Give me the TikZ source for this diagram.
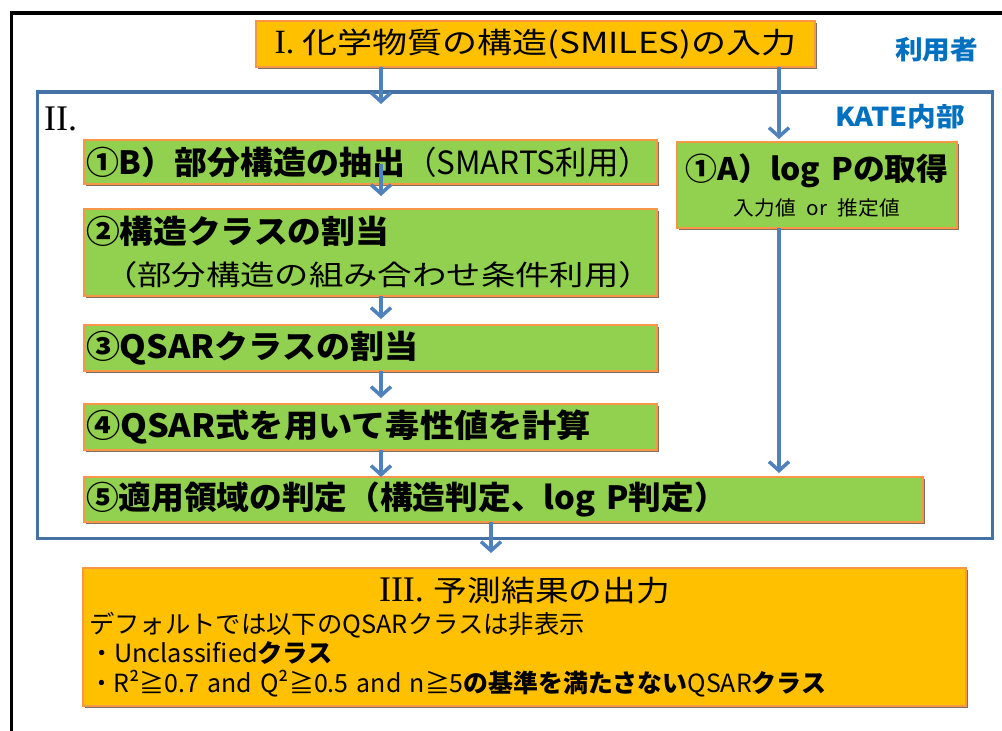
\documentclass[tikz,border=0pt]{standalone}
\usepackage{fontspec}
\usepackage{graphicx}
\setmainfont{Noto Sans CJK JP}
\newfontfamily\serifI{Liberation Serif}
\usetikzlibrary{arrows.meta,shadows,calc}
\definecolor{orfill}{HTML}{FFC000}
\definecolor{grfill}{HTML}{92D050}
\definecolor{bdr}{HTML}{F79646}
\definecolor{arrblue}{HTML}{4F81BD}
\definecolor{frameblue}{HTML}{4472A4}
\definecolor{lblblue}{HTML}{0070C0}
\newcommand{\fw}[2]{\resizebox{#1}{\height}{#2}}
\begin{document}
\begin{tikzpicture}[x=1pt,y=-1pt,
  boxbase/.style={draw=bdr, line width=1.5pt, anchor=north west, outer sep=0pt,
    inner ysep=0pt, inner xsep=2pt, align=left,
    drop shadow={shadow xshift=1.8pt, shadow yshift=-1.8pt, fill=black!60!brown, opacity=0.7}},
  gbox/.style={boxbase, fill=grfill},
  obox/.style={boxbase, fill=orfill},
  arr/.style={draw=arrblue, line width=3.5pt, -{Straight Barb[length=9pt,width=20pt]}},
  lbl/.style={text=lblblue, font=\fontsize{26pt}{30pt}\selectfont\bfseries, inner sep=0pt},
  bigfont/.style={font=\fontsize{32pt}{42pt}\selectfont}
]
\useasboundingbox (0,0) rectangle (1002,731);
\fill[white] (0,0) rectangle (1002,731);
\draw[line width=3.5pt] (11.5,731) -- (11.5,13) -- (1002,13);

\node[draw=frameblue, line width=3.3pt, minimum width=955pt, minimum height=446.5pt,
  anchor=north west, inner sep=0pt, outer sep=0pt] (kate) at (37.5,92) {};

\node[font=\serifI\fontsize{36pt}{40pt}\selectfont, inner sep=0pt, anchor=base west] (ii) at (44,130) {II.};
\node[lbl] (user) at (936.5,49.5) {\fw{83pt}{利用者}};
\node[lbl] (katelbl) at (900,117) {\fw{130pt}{KATE内部}};

\node[obox, minimum width=559pt, minimum height=46pt, align=center,
  font=\fontsize{29pt}{32pt}\selectfont] (I) at (256,21)
  {{\serifI\fontsize{34pt}{36pt}\selectfont I.}\hspace{8pt}\fw{494pt}{化学物質の構造(SMILES)の入力}};

\node[gbox, text width=569pt, minimum height=44pt, bigfont] (b1) at (84,140)
  {\fw{319pt}{\bfseries ①B）部分構造の抽出}\fw{245pt}{（SMARTS利用）}};

\node[gbox, text width=569pt, minimum height=87pt, bigfont] (b2) at (84,209)
  {\fw{303pt}{\bfseries ②構造クラスの割当}\\\hspace*{17pt}{\fontsize{28pt}{42pt}\selectfont\fw{550pt}{（部分構造の組み合わせ条件利用）}}};

\node[gbox, text width=569pt, minimum height=46pt, bigfont] (b3) at (84,325)
  {\fw{332pt}{\bfseries ③QSARクラスの割当}};

\node[gbox, text width=569pt, minimum height=46pt, bigfont] (b4) at (84,404)
  {\fw{505pt}{\bfseries ④QSAR式を用いて毒性値を計算}};

\node[gbox, text width=835pt, minimum height=45pt, bigfont] (b5) at (84,477)
  {\fw{641pt}{\bfseries ⑤適用領域の判定（構造判定、log P判定）}};

\node[gbox, text width=276pt, minimum height=86pt, align=center,
  font=\fontsize{31pt}{35pt}\selectfont] (A) at (677,142)
  {\fw{263pt}{\bfseries ①A）log Pの取得}\\{\fontsize{20pt}{35pt}\selectfont\fw{166pt}{入力値 or 推定値}}};

\node[obox, text width=871pt, inner xsep=6pt, minimum height=138pt,
  font=\fontsize{25pt}{29.5pt}\selectfont] (III) at (83,568)
  {\makebox[\linewidth]{{\serifI\fontsize{36pt}{36pt}\selectfont III.}\hspace{10pt}{\fontsize{29pt}{29.5pt}\selectfont\fw{236pt}{予測結果の出力}}}\\[2pt]
   \fw{496pt}{デフォルトでは以下のQSARクラスは非表示}\\
   \fw{244pt}{・Unclassified{\bfseries クラス}}\\
   \fw{737pt}{・R²≧0.7 and Q²≧0.5 and n≧5{\bfseries の基準を満たさない}QSAR{\bfseries クラス}}};

\coordinate (cL) at (381,0);
\coordinate (cR) at (779,0);
\coordinate (cM) at (491,0);
\draw[arr] (I.south -| cL) -- ($(kate.north -| cL)+(0,12)$);
\draw[arr] (I.south -| cR) -- ($(A.north -| cR)+(0,-3)$);
\draw[arr] ($(b1.south -| cL)+(0,-20)$) -- ($(b2.north -| cL)+(0,-13)$);
\draw[arr] (b2.south -| cL) -- ($(b3.north -| cL)+(0,-6)$);
\draw[arr] (b3.south -| cL) -- ($(b4.north -| cL)+(0,-6)$);
\draw[arr] (b4.south -| cL) -- (b5.north -| cL);
\draw[arr] (A.south -| cR) -- ($(b5.north -| cR)+(0,-4)$);
\draw[arr] (b5.south -| cM) -- ($(III.north -| cM)+(0,-15)$);
\end{tikzpicture}
\end{document}
